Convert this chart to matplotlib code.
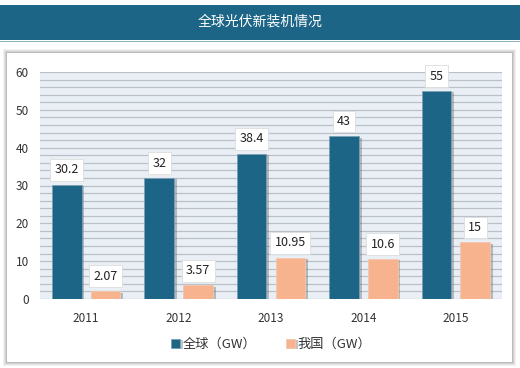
import matplotlib
matplotlib.use("Agg")
import matplotlib.pyplot as plt
import matplotlib.patches as mpatches
import matplotlib.patheffects as pe
import numpy as np

plt.rcParams['font.family'] = ['Noto Sans CJK SC', 'DejaVu Sans']

TITLE = "全球光伏新装机情况"
years = ["2011", "2012", "2013", "2014", "2015"]
global_gw = [30.2, 32, 38.4, 43, 55]
china_gw = [2.07, 3.57, 10.95, 10.6, 15]
global_lbl = ["30.2", "32", "38.4", "43", "55"]
china_lbl = ["2.07", "3.57", "10.95", "10.6", "15"]
series_names = ["全球（GW）", "我国（GW）"]

BLUE = "#1c6586"
PEACH = "#f7b38e"
W, H = 520, 368

fig = plt.figure(figsize=(W / 100, H / 100), dpi=100)


def fig_rect(x, y, w, h, **kw):
    # rectangle in pixel coords (origin bottom-left), kept under the axes
    fig.patches.append(mpatches.Rectangle((x / W, y / H), w / W, h / H,
                                          transform=fig.transFigure,
                                          edgecolor="none", zorder=-5, **kw))


# header band
fig_rect(0, H - 40, W, 35, facecolor=BLUE)
fig_rect(0, H - 42, W, 1.5, facecolor="#8fb4c8")
fig.text(0.5, 1 - 22 / H, TITLE, color="white", fontsize=10,
         ha="center", va="center", fontweight="medium")

# panel with soft shadow
for i, a in enumerate([0.05, 0.06, 0.08, 0.10]):
    d = 4 - i
    fig_rect(7 - d, 6 - d, 505 + 2 * d, 309 + 2 * d, facecolor="black", alpha=a)
fig_rect(7, 6, 505, 309, facecolor="white")

ax = fig.add_axes([40 / W, 1 - 299 / H, 462 / W, 227 / H])
ax.set_facecolor("#e9eff5")
ax.set_ylim(0, 60)
ax.set_xlim(-0.5, len(years) - 0.5)
ax.set_yticks(np.arange(0, 61, 10))
ax.set_yticks(np.arange(0, 61, 2), minor=True)
ax.grid(True, axis="y", which="both", color="#b9c0c7", linewidth=0.9)
ax.set_axisbelow(True)
for s in ax.spines.values():
    s.set_visible(False)
ax.tick_params(axis="both", which="both", length=0, labelsize=8.5,
               colors="#333333", pad=8)
ax.tick_params(axis="x", pad=9)

x = np.arange(len(years))
bw = 0.32
shadow = [pe.SimplePatchShadow(offset=(2, -1), alpha=0.35, shadow_rgbFace="#555555"),
          pe.Normal()]
b1 = ax.bar(x - 0.21, global_gw, bw, color=BLUE, edgecolor="#7d9fb3",
            linewidth=0.6, path_effects=shadow, label=series_names[0], zorder=3)
b2 = ax.bar(x + 0.21, china_gw, bw, color=PEACH, edgecolor="#f3c6ad",
            linewidth=0.6, path_effects=shadow, label=series_names[1], zorder=3)
ax.set_xticks(x)
ax.set_xticklabels(years)

box = dict(boxstyle="square,pad=0.35", facecolor="white", edgecolor="#dddddd",
           linewidth=0.6)
for bars, labels in ((b1, global_lbl), (b2, china_lbl)):
    for b, t in zip(bars, labels):
        ax.annotate(t, (b.get_x() + b.get_width() / 2, b.get_height()),
                    xytext=(0, 6), textcoords="offset points",
                    ha="center", va="bottom", fontsize=9, color="#222222",
                    bbox=box, zorder=5)

ax.legend(handles=[b1, b2], loc="center", bbox_to_anchor=(0.5, -0.2),
          ncol=2, frameon=False, fontsize=9.5, handlelength=0.7,
          handleheight=0.7, columnspacing=2.2, handletextpad=0.2,
          labelcolor="#333333")

fig.savefig("out.png", dpi=100)
